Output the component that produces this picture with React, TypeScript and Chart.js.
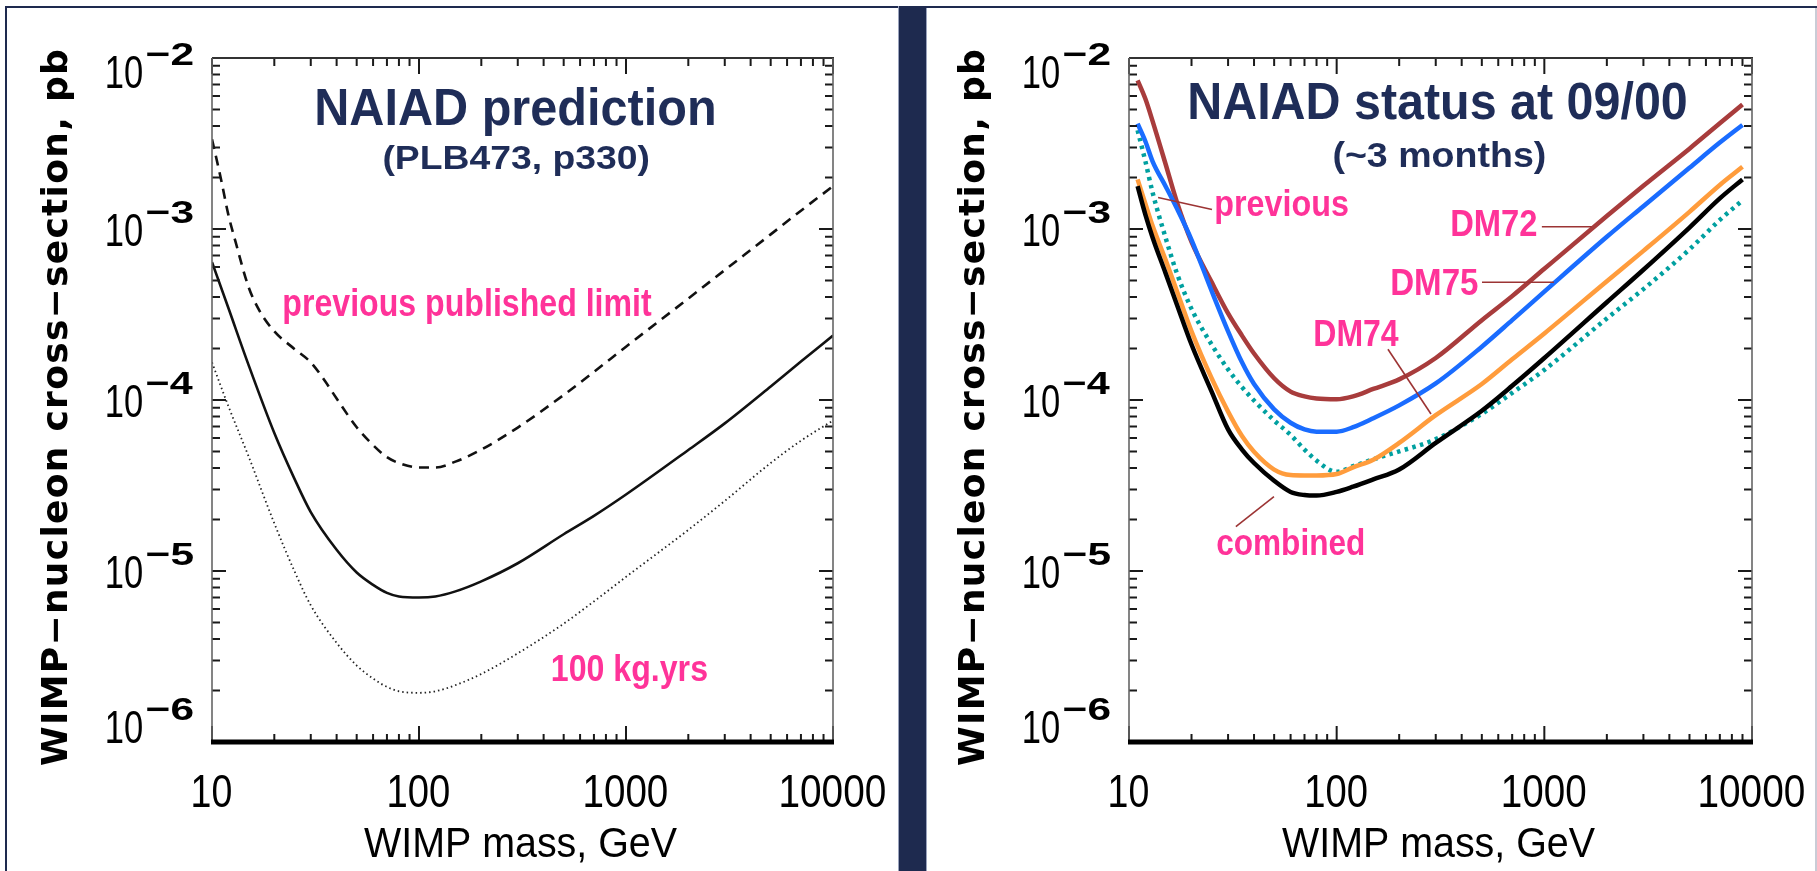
import React, { useEffect, useRef } from "react";
import { Chart, registerables } from "chart.js";

Chart.register(...registerables);

const PAGE_W = 1817;
const PAGE_H = 871;

// ---------- axis ticks ----------
const X_MAJOR = [10, 100, 1000, 10000];
const X_TICK_LABELS = ["10", "100", "1000", "10000"];
const Y_MAJOR = [1e-6, 1e-5, 1e-4, 1e-3, 1e-2];
const Y_TICK_EXPONENTS = ["\u22126", "\u22125", "\u22124", "\u22123", "\u22122"];

// ---------- left panel: NAIAD prediction ----------
const predMass = [10, 12, 15, 20, 25, 30, 40, 50, 60, 70, 80, 100, 120, 150, 200, 300, 500, 700, 1000, 2000, 3000, 5000, 7000, 10000];
const naiadPredicted = [6.4e-4, 3.45e-4, 1.61e-4, 6.41e-5, 3.47e-5, 2.21e-5, 1.33e-5, 9.8e-6, 8.3e-6, 7.45e-6, 7.1e-6, 7.0e-6, 7.1e-6, 7.6e-6, 8.7e-6, 1.11e-5, 1.64e-5, 2.1e-5, 2.8e-5, 5.1e-5, 7.3e-5, 1.2e-4, 1.68e-4, 2.38e-4];
const naiad100kgyr = [1.66e-4, 9.2e-5, 4.7e-5, 1.9e-5, 1.0e-5, 6.3e-6, 3.8e-6, 2.8e-6, 2.35e-6, 2.1e-6, 1.98e-6, 1.94e-6, 1.98e-6, 2.15e-6, 2.5e-6, 3.3e-6, 4.92e-6, 6.64e-6, 9.24e-6, 1.74e-5, 2.57e-5, 4.28e-5, 5.78e-5, 7.59e-5];
const prevMass = [10, 11, 12, 13, 15, 17, 20, 25, 30, 35, 40, 50, 60, 70, 80, 100, 120, 150, 200, 300, 500, 700, 1000, 2000, 3000, 5000, 7000, 10000];
const prevPublished = [3.35e-3, 2.01e-3, 1.21e-3, 8.4e-4, 4.6e-4, 3.31e-4, 2.52e-4, 1.99e-4, 1.66e-4, 1.30e-4, 1.02e-4, 6.93e-5, 5.45e-5, 4.63e-5, 4.28e-5, 4.03e-5, 4.03e-5, 4.36e-5, 5.13e-5, 6.9e-5, 1.07e-4, 1.46e-4, 2.05e-4, 3.92e-4, 5.75e-4, 9.3e-4, 1.28e-3, 1.78e-3];

// ---------- right panel: NAIAD status at 09/00 ----------
const statusMass = [11, 12, 13, 15, 17, 20, 25, 30, 35, 40, 50, 60, 70, 80, 100, 120, 150, 200, 300, 500, 700, 1000, 2000, 3000, 5000, 7000, 9000];
const dm72 = [7.4e-3, 5.75e-3, 4.26e-3, 2.4e-3, 1.44e-3, 8.4e-4, 4.89e-4, 3.21e-4, 2.38e-4, 1.87e-4, 1.34e-4, 1.12e-4, 1.05e-4, 1.02e-4, 1.01e-4, 1.05e-4, 1.16e-4, 1.32e-4, 1.76e-4, 2.93e-4, 4.05e-4, 5.85e-4, 1.19e-3, 1.79e-3, 2.95e-3, 4.15e-3, 5.35e-3];
const dm75 = [4.13e-3, 3.25e-3, 2.48e-3, 1.78e-3, 1.32e-3, 8.65e-4, 4.34e-4, 2.52e-4, 1.66e-4, 1.24e-4, 8.81e-5, 7.36e-5, 6.73e-5, 6.53e-5, 6.53e-5, 6.93e-5, 7.82e-5, 9.3e-5, 1.25e-4, 2.05e-4, 2.93e-4, 4.3e-4, 9.0e-4, 1.36e-3, 2.28e-3, 3.2e-3, 4.06e-3];
const dm74 = [1.95e-3, 1.4e-3, 1.04e-3, 6.6e-4, 4.34e-4, 2.52e-4, 1.34e-4, 8.55e-5, 6.15e-5, 4.98e-5, 3.92e-5, 3.64e-5, 3.62e-5, 3.62e-5, 3.69e-5, 4.04e-5, 4.47e-5, 5.61e-5, 8.15e-5, 1.24e-4, 1.73e-4, 2.45e-4, 4.95e-4, 7.45e-4, 1.26e-3, 1.81e-3, 2.31e-3];
const combined = [1.78e-3, 1.21e-3, 8.9e-4, 5.52e-4, 3.62e-4, 2.11e-4, 1.12e-4, 6.73e-5, 5.13e-5, 4.28e-5, 3.37e-5, 2.9e-5, 2.78e-5, 2.76e-5, 2.9e-5, 3.11e-5, 3.43e-5, 3.92e-5, 5.61e-5, 8.65e-5, 1.21e-4, 1.76e-4, 3.73e-4, 5.78e-4, 1.02e-3, 1.51e-3, 1.95e-3];
const previousLimit = [3.78e-3, 2.48e-3, 1.63e-3, 8.9e-4, 5.52e-4, 3.41e-4, 2.11e-4, 1.51e-4, 1.19e-4, 9.93e-5, 7.59e-5, 6.25e-5, 5.13e-5, 4.42e-5, 3.8e-5, 4.1e-5, 4.5e-5, 5.0e-5, 5.9e-5, 8.3e-5, 1.1e-4, 1.5e-4, 3.0e-4, 4.45e-4, 7.6e-4, 1.13e-3, 1.47e-3];

// annotation pointer lines, in data coordinates [mass1, sigma1, mass2, sigma2]
const rightPointers = [
  [13.8, 1.53e-3, 25.1, 1.3e-3],
  [973, 1.03e-3, 1695, 1.03e-3],
  [501, 4.88e-4, 1112, 4.88e-4],
  [176.6, 1.98e-4, 284.6, 8.28e-5],
  [32.7, 1.82e-5, 49.9, 2.72e-5],
];

// ---------- styles ----------
const NAVY_BG = "#1e2a4f";
const NAVY_TEXT = "#1f2d58";
const PINK = "#ff3399";
const POINTER = "#9c3434";
const NARROW = '"Liberation Sans Narrow", "Liberation Sans", Arial, sans-serif';
const SANS = '"Liberation Sans", Arial, sans-serif';

type TextSpec = { text: string; cx: number; base: number; w: number; size: number; color: string };

const leftTexts: TextSpec[] = [
  { text: "NAIAD prediction", cx: 515.5, base: 125, w: 397, size: 52, color: NAVY_TEXT },
  { text: "(PLB473, p330)", cx: 516, base: 169, w: 265, size: 34, color: NAVY_TEXT },
  { text: "previous published limit", cx: 468, base: 316, w: 368, size: 38, color: PINK },
  { text: "100 kg.yrs", cx: 630, base: 681, w: 155, size: 37, color: PINK },
];

const rightTexts: TextSpec[] = [
  { text: "NAIAD status at 09/00", cx: 1438, base: 119, w: 496, size: 52, color: NAVY_TEXT },
  { text: "(~3 months)", cx: 1439, base: 166.5, w: 211, size: 35, color: NAVY_TEXT },
  { text: "previous", cx: 1282, base: 216, w: 132, size: 36, color: PINK },
  { text: "DM72", cx: 1494.5, base: 236, w: 85, size: 37, color: PINK },
  { text: "DM75", cx: 1435, base: 294.5, w: 86, size: 37, color: PINK },
  { text: "DM74", cx: 1357, base: 346, w: 84, size: 37, color: PINK },
  { text: "combined", cx: 1290.5, base: 555, w: 147, size: 37, color: PINK },
];

function fitText(
  ctx: CanvasRenderingContext2D,
  text: string,
  x: number,
  y: number,
  width: number,
  font: string,
  color: string,
  align: "left" | "center" | "right"
) {
  ctx.save();
  ctx.font = font;
  ctx.fillStyle = color;
  ctx.textAlign = "left";
  ctx.textBaseline = "alphabetic";
  const m = ctx.measureText(text);
  const inkL = m.actualBoundingBoxLeft;
  const inkW = m.actualBoundingBoxRight + m.actualBoundingBoxLeft;
  const sx = width / (inkW || 1);
  const left = align === "center" ? x - width / 2 : align === "right" ? x - width : x;
  ctx.translate(left, y);
  ctx.scale(sx, 1);
  ctx.fillText(text, inkL, 0);
  ctx.restore();
}

// spread text to a target length with letter spacing (glyphs keep their shape)
function spreadText(
  ctx: CanvasRenderingContext2D,
  text: string,
  cx: number,
  y: number,
  width: number,
  font: string,
  color: string
) {
  ctx.save();
  ctx.font = font;
  ctx.fillStyle = color;
  ctx.textAlign = "left";
  ctx.textBaseline = "alphabetic";
  const m = ctx.measureText(text);
  const inkW = m.actualBoundingBoxRight + m.actualBoundingBoxLeft;
  const chars = Array.from(text);
  const spacing = (width - inkW) / Math.max(1, chars.length - 1);
  let x = cx - width / 2 + m.actualBoundingBoxLeft;
  for (const ch of chars) {
    ctx.fillText(ch, x, y);
    x += ctx.measureText(ch).width + spacing;
  }
  ctx.restore();
}

function makeIdlPlugin(key: string, texts: TextSpec[], pointers: number[][]) {
  return {
    id: "idl-" + key,
    afterDatasetsDraw(chart: any) {
      const ctx: CanvasRenderingContext2D = chart.ctx;
      const a = chart.chartArea;
      const xs = chart.scales.x;
      const ys = chart.scales.y;
      ctx.save();

      // pointer lines
      ctx.strokeStyle = POINTER;
      ctx.lineWidth = 1.6;
      for (const p of pointers) {
        ctx.beginPath();
        ctx.moveTo(xs.getPixelForValue(p[0]), ys.getPixelForValue(p[1]));
        ctx.lineTo(xs.getPixelForValue(p[2]), ys.getPixelForValue(p[3]));
        ctx.stroke();
      }

      // tick marks (inward, all four sides)
      ctx.strokeStyle = "#1a1a1a";
      ctx.lineWidth = 2;
      ctx.lineCap = "butt";
      const xTicks: [number, boolean][] = [];
      X_MAJOR.forEach((d, i) => {
        xTicks.push([d, true]);
        if (i < X_MAJOR.length - 1) for (let k = 2; k <= 9; k++) xTicks.push([d * k, false]);
      });
      for (const [v, major] of xTicks) {
        const px = xs.getPixelForValue(v);
        const len = major ? 16 : 8;
        ctx.beginPath();
        ctx.moveTo(px, a.top);
        ctx.lineTo(px, a.top + len);
        ctx.moveTo(px, a.bottom);
        ctx.lineTo(px, a.bottom - len);
        ctx.stroke();
      }
      const yTicks: [number, boolean][] = [];
      Y_MAJOR.forEach((d, i) => {
        yTicks.push([d, true]);
        if (i < Y_MAJOR.length - 1) for (let k = 2; k <= 9; k++) yTicks.push([d * k, false]);
      });
      for (const [v, major] of yTicks) {
        const py = ys.getPixelForValue(v);
        const len = major ? 14 : 8;
        ctx.beginPath();
        ctx.moveTo(a.left, py);
        ctx.lineTo(a.left + len, py);
        ctx.moveTo(a.right, py);
        ctx.lineTo(a.right - len, py);
        ctx.stroke();
      }

      // frame
      ctx.strokeStyle = "#333";
      ctx.lineWidth = 2;
      ctx.beginPath();
      ctx.moveTo(a.left, a.top);
      ctx.lineTo(a.right + 1, a.top);
      ctx.stroke();
      ctx.strokeStyle = "#666";
      ctx.lineWidth = 1.6;
      ctx.beginPath();
      ctx.moveTo(a.left, a.top);
      ctx.lineTo(a.left, a.bottom);
      ctx.moveTo(a.right, a.top);
      ctx.lineTo(a.right, a.bottom);
      ctx.stroke();
      ctx.strokeStyle = "#000";
      ctx.lineWidth = 5;
      ctx.beginPath();
      ctx.moveTo(a.left - 1, a.bottom);
      ctx.lineTo(a.right + 1, a.bottom);
      ctx.stroke();

      // x tick labels
      X_MAJOR.forEach((v, i) => {
        const lab = X_TICK_LABELS[i];
        const px = xs.getPixelForValue(v);
        fitText(ctx, lab, px, a.bottom + 65, 22 * lab.length - 6, "46px " + NARROW, "#000", "center");
      });

      // y tick labels: 10 with superscript exponent
      Y_MAJOR.forEach((v, i) => {
        const py = ys.getPixelForValue(v);
        const cy = Math.max(a.top + 14.5, Math.min(a.bottom - 15, py + 1));
        const base = cy + 15.5;
        fitText(ctx, "10", a.left - 70, base, 35, "46px " + NARROW, "#000", "right");
        fitText(ctx, Y_TICK_EXPONENTS[i], a.left - 65, base - 23, 46, "bold 32px " + NARROW, "#000", "left");
      });

      // axis titles
      fitText(ctx, "WIMP mass, GeV", (a.left + a.right) / 2 - 2, a.bottom + 115, 313, "42px " + NARROW, "#000", "center");
      ctx.save();
      ctx.translate(a.left - 145, a.top + 349.5);
      ctx.rotate(-Math.PI / 2);
      spreadText(ctx, "WIMP\u2212nucleon cross\u2212section, pb", 0, 0, 715, 'bold 36px "DejaVu Sans", sans-serif', "#000");
      ctx.restore();

      // titles and annotations
      for (const t of texts) {
        fitText(ctx, t.text, t.cx, t.base, t.w, "bold " + t.size + "px " + SANS, t.color, "center");
      }
      ctx.restore();
    },
  };
}

function series(mass: number[], vals: number[]) {
  return mass.map((m, i) => ({ x: m, y: vals[i] }));
}

function baseOptions(area: { left: number; top: number; right: number; bottom: number }) {
  return {
    animation: false as const,
    responsive: false,
    maintainAspectRatio: false,
    devicePixelRatio: 1,
    events: [] as any[],
    layout: {
      padding: { left: area.left, top: area.top, right: PAGE_W - area.right, bottom: PAGE_H - area.bottom },
    },
    plugins: { legend: { display: false }, tooltip: { enabled: false }, title: { display: false } },
    elements: { point: { radius: 0 }, line: { cubicInterpolationMode: "monotone" as const } },
    scales: {
      x: { type: "logarithmic" as const, min: 10, max: 10000, display: false },
      y: { type: "logarithmic" as const, min: 1e-6, max: 1e-2, display: false },
    },
  };
}

export default function App() {
  const leftRef = useRef<HTMLCanvasElement>(null);
  const rightRef = useRef<HTMLCanvasElement>(null);

  useEffect(() => {
    const left = new Chart(leftRef.current as HTMLCanvasElement, {
      type: "line",
      data: {
        datasets: [
          { label: "NAIAD prediction", data: series(predMass, naiadPredicted), borderColor: "#111", borderWidth: 2.6, fill: false },
          { label: "previous published limit", data: series(prevMass, prevPublished), borderColor: "#111", borderWidth: 2.6, borderDash: [10, 7], fill: false },
          { label: "100 kg.yrs", data: series(predMass, naiad100kgyr), borderColor: "#222", borderWidth: 1.8, borderDash: [1.5, 3], fill: false },
        ],
      },
      options: baseOptions({ left: 212, top: 58, right: 833, bottom: 742 }) as any,
      plugins: [makeIdlPlugin("left", leftTexts, [])],
    });

    const right = new Chart(rightRef.current as HTMLCanvasElement, {
      type: "line",
      data: {
        datasets: [
          { label: "combined", data: series(statusMass, combined), borderColor: "#000", borderWidth: 4.5, fill: false },
          { label: "DM74", data: series(statusMass, dm74), borderColor: "#ff9c3c", borderWidth: 4.5, fill: false },
          { label: "DM75", data: series(statusMass, dm75), borderColor: "#1a6cff", borderWidth: 4.5, fill: false },
          { label: "DM72", data: series(statusMass, dm72), borderColor: "#a83c3c", borderWidth: 4.5, fill: false },
          { label: "previous", data: series(statusMass, previousLimit), borderColor: "#00a0a0", borderWidth: 4.5, borderDash: [3.5, 4.5], fill: false },
        ],
      },
      options: baseOptions({ left: 1129, top: 58, right: 1752, bottom: 742 }) as any,
      plugins: [makeIdlPlugin("right", rightTexts, rightPointers)],
    });

    return () => {
      left.destroy();
      right.destroy();
    };
  }, []);

  return (
    <div style={{ position: "relative", width: PAGE_W, height: PAGE_H, background: "#fff", overflow: "hidden" }}>
      <style>{`html,body{margin:0;padding:0;background:#fff;}`}</style>
      <div style={{ position: "absolute", left: 5, top: 6, width: PAGE_W - 5, height: 2, background: NAVY_BG }} />
      <div style={{ position: "absolute", left: 5, top: 6, width: 2, height: PAGE_H - 6, background: NAVY_BG }} />
      <div style={{ position: "absolute", left: 898, top: 6, width: 1, height: PAGE_H - 6, background: "#9aa3bd" }} />
      <div style={{ position: "absolute", left: 899, top: 6, width: 27, height: PAGE_H - 6, background: NAVY_BG }} />
      <div style={{ position: "absolute", left: 926, top: 8, width: 1, height: PAGE_H - 8, background: "#9aa3bd" }} />
      <div style={{ position: "absolute", left: 1815, top: 8, width: 2, height: PAGE_H - 8, background: "#c9ccd6" }} />
      <canvas ref={leftRef} width={PAGE_W} height={PAGE_H} style={{ position: "absolute", left: 0, top: 0 }} />
      <canvas ref={rightRef} width={PAGE_W} height={PAGE_H} style={{ position: "absolute", left: 0, top: 0 }} />
    </div>
  );
}
